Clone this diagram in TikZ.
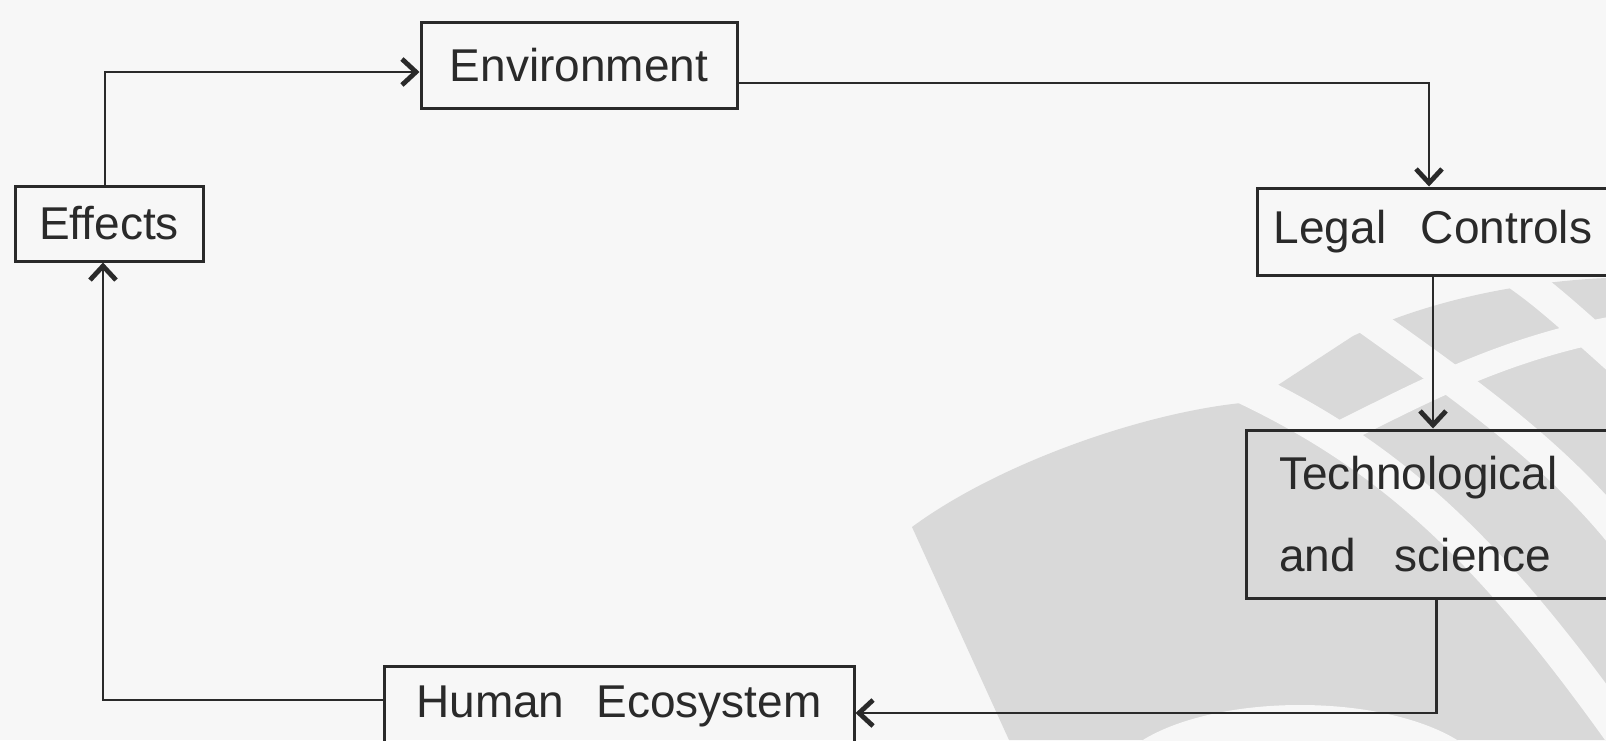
\documentclass[tikz,border=0pt]{standalone}
\usepackage{fontspec}
\setmainfont{Liberation Sans}
\usetikzlibrary{arrows.meta,positioning}
\definecolor{paper}{HTML}{F7F7F7}
\definecolor{markgrey}{HTML}{D9D9D9}
\definecolor{ink}{HTML}{2A2A2A}

\begin{document}
\begin{tikzpicture}[x=0.5pt, y=-0.5pt,
every node/.style = {font=\fontsize{23}{41}\selectfont, text=ink},
box/.style = {draw=ink, line width=1.5pt, inner sep=0pt},
band/.style = {draw=paper, line width=15pt},
link/.style = {draw=ink, line width=1.3pt,
  -{Straight Barb[length=7pt,width=13pt,line width=2.4pt]}} ]
\useasboundingbox (0,0) rectangle (1606,740);
\clip (0,0) rectangle (1606,740);
\fill[paper] (0,0) rectangle (1606,740);
\fill[markgrey] (912,527) .. controls (1000,462) and (1150,410) .. (1252,402)
  -- (1353,336) .. controls (1430,300) and (1520,282) .. (1606,278)
  -- (1606,740) -- (1009,740) -- cycle;
\draw[band, line width=17pt] (1240,385) .. controls (1400,460) and (1500,560) .. (1640,760);
\draw[band] (1340,300) .. controls (1450,380) and (1560,450) .. (1640,560);
\draw[band] (1480,250) .. controls (1540,290) .. (1640,380);
\draw[band, line width=12pt] (1325,440) .. controls (1400,405) and (1490,350) .. (1620,327);
\fill[paper] (1300,785) ellipse [x radius=190, y radius=80];
\node[box, minimum width=94pt, minimum height=37.5pt] (effects) at (109,223.5) {Effects};
\node[box, minimum width=158pt, minimum height=43pt] (environment) at (579,65) {Environment};
\node[box, minimum width=176pt, minimum height=43.5pt] (legal) at (1433,231.5)
  {Legal\hspace{0.75em}Controls};
\node[box, anchor=west, text width=157.5pt, inner xsep=16.25pt, minimum height=84pt,
  align=left] (techsci) at (1245,514) {Technological\\and\hspace{0.85em}science};
\node[box, minimum width=235pt, minimum height=39.5pt] (ecosystem) at (619,706)
  {Human\hspace{0.7em}Ecosystem};
\draw[link] ([xshift=-2pt]effects.north) |- ([yshift=-3.5pt]environment.west);
\draw[link] ([yshift=-9pt]environment.east) -| ([xshift=-2pt]legal.north);
\draw[link] (legal.south) -- (legal.south |- techsci.north);
\draw[link] (techsci.south) |- ([yshift=-3.5pt]ecosystem.east);
\draw[link] ([yshift=3pt]ecosystem.west) -| ([xshift=-3pt]effects.south);
\end{tikzpicture}
\end{document}
